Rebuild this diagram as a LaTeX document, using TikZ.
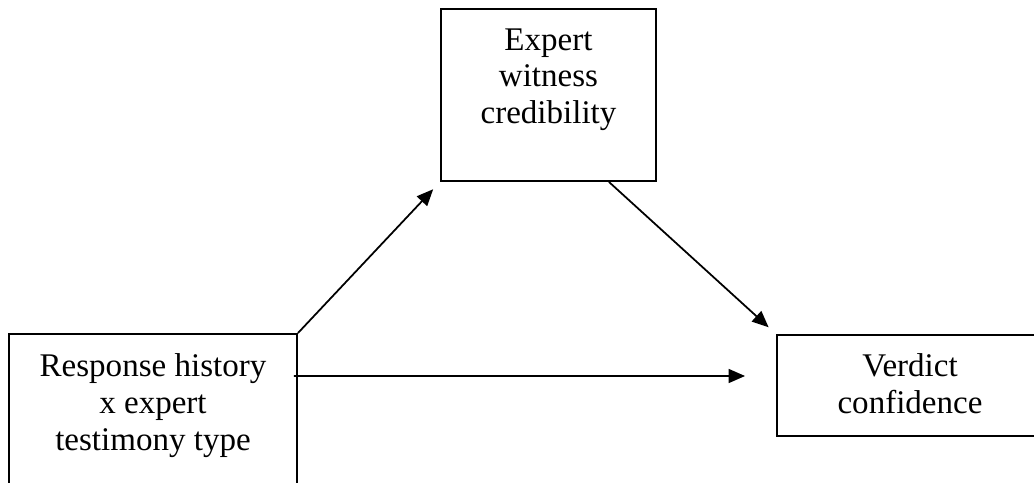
\documentclass[tikz,border=0pt]{standalone}
\usepackage{fontspec}
\setmainfont{Liberation Serif}
\usetikzlibrary{positioning, arrows.meta}
\tikzset{
  varbox/.style={
    draw=black, line width=1.1pt,
    inner sep=0pt
  },
  vartext/.style={
    inner sep=0pt,
    align=center,
    font=\fontsize{18.8pt}{21pt}\selectfont
  },
  effect/.style={
    -{Triangle[length=0.33cm,width=0.28cm]},
    line width=1pt,
    draw=black,
    shorten >=0.2cm
  }
}

\begin{document}
\begin{tikzpicture}
  \clip (0,0) rectangle (20.68,9.64);
  % boxes
  \node[varbox, minimum width=5.76cm, minimum height=3.32cm] (resp) at (3.06,1.30) {};
  \node[varbox, minimum width=4.30cm, minimum height=3.44cm] (cred) at (10.97,7.74) {};
  \node[varbox, minimum width=5.32cm, minimum height=2.02cm] (verd) at (18.20,1.93) {};

  % texts
  \node[vartext, below=0.41cm of resp.north] (resptext) {Response history\\x expert\\testimony type};
  \node[vartext, below=0.40cm of cred.north] (credtext) {Expert\\witness\\credibility};
  \node[vartext, below=0.38cm of verd.north] (verdtext) {Verdict\\confidence};

  % paths
  \draw[effect] (resp.north east) -- (cred.south west);
  \draw[effect] ([xshift=-0.96cm]cred.south east) -- (verd.north west);
  \draw[effect, shorten >=0.62cm] ([xshift=-0.08cm, yshift=0.82cm]resp.east) -- ([yshift=0.19cm]verd.west);
\end{tikzpicture}
\end{document}
